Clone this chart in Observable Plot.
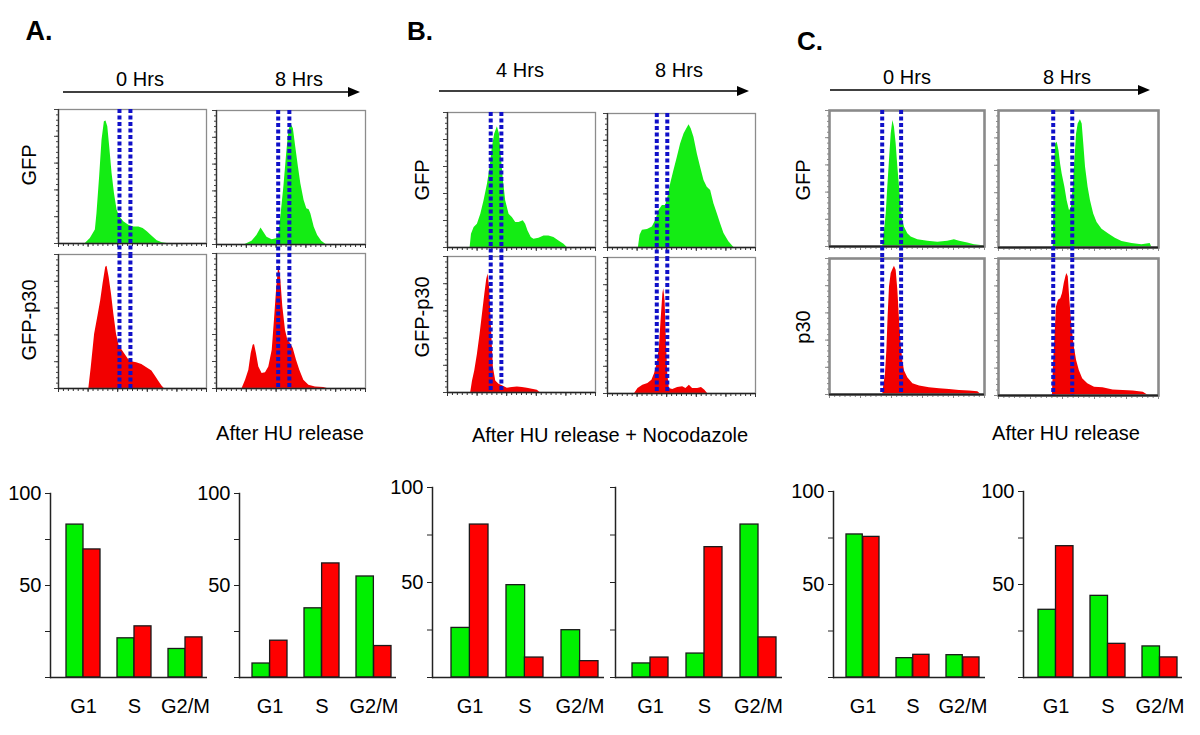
<!DOCTYPE html>
<html><head><meta charset="utf-8">
<script src="https://cdn.jsdelivr.net/npm/d3@7"></script>
<script src="https://cdn.jsdelivr.net/npm/@observablehq/plot@0.6"></script>
<style>
body{margin:0;background:#fff;font-family:"Liberation Sans",Arial,sans-serif;}
#fig{position:relative;width:1200px;height:735px;overflow:hidden;background:#fff;}
.t{position:absolute;white-space:nowrap;color:#000;line-height:1;}
</style></head><body><div id="fig"></div>
<script>
// ---------- DATA ----------
// Flow cytometry histograms: [DNA content (% of channel range), count (% of max scale)]
const A_GFP_0h = [[18.1,0],[21.5,3.7],[24.9,10],[26.0,22.4],[27.8,49.8],[29.4,77.1],[31.0,90.8],[32.1,91.5],[33.3,87.1],[34.6,72.1],[36.2,52.2],[37.8,37.3],[39.6,24.9],[41.4,19.9],[44.1,16.2],[47.5,13.7],[50.9,12.4],[54.3,12.4],[57.2,11.2],[60.0,8.7],[63.3,5.5],[66.7,2.0],[70.1,0.5],[73.5,0]];
const A_P30_0h = [[20.5,0],[22.1,15.5],[24.4,40.5],[26.7,54.3],[28.5,65.5],[30.1,78],[31.9,90.5],[32.8,91.3],[34.2,83],[35.8,70.5],[37.4,55.5],[39.2,40.5],[41.0,31.8],[42.6,29.3],[44.9,25.5],[47.2,21.8],[49.4,20],[52.8,19.3],[56.3,18],[59.7,15.5],[63.1,13],[65.4,9.3],[67.7,5.5],[69.9,1.8],[71.5,0]];
const A_GFP_8h = [[19.2,0],[23.8,2.5],[27.1,6.7],[29.9,12.4],[31.7,9.2],[33.9,5.5],[37.3,3.5],[40.3,4.2],[41.9,8],[43.4,22.9],[45.2,42.8],[47.1,67.7],[48.6,85.1],[50.0,90],[51.6,86.3],[53.2,72.6],[55.0,57.7],[56.6,45.3],[58.8,32.8],[60.6,26.6],[62.2,25.9],[63.3,22.9],[65.6,12.9],[67.9,6.7],[70.6,2.5],[73.5,0]];
const A_P30_8h = [[17.2,0],[19.5,6.2],[21.7,13.6],[23.3,25.9],[24.6,32.1],[25.5,32.6],[26.8,25.9],[28.4,16],[30.6,11.1],[32.9,11.6],[35.1,16],[37.4,28.4],[38.9,50.6],[40.3,72.8],[41.8,91.4],[43.0,82.7],[44.5,60.5],[46.3,43.2],[47.9,35.8],[49.7,33.3],[51.5,29.6],[53.7,21],[55.9,13.6],[58.6,6.2],[62.0,2.5],[66.4,1.2],[72.0,0.7],[74.3,0]];
const B_GFP_4h = [[15.3,0],[16.2,9.9],[18.0,14.8],[20.2,17.3],[22.5,24.7],[24.7,34.6],[27.0,46.9],[28.8,59.3],[30.3,74.1],[31.9,84],[33.7,89.4],[35.1,84],[36.4,66.7],[37.8,49.4],[39.3,34.6],[41.6,24.7],[43.8,22.2],[46.1,18.5],[48.3,18.5],[51.2,19.8],[52.8,17.3],[54.4,12.3],[56.6,7.4],[58.4,6.2],[61.8,6.9],[65.2,8.6],[68.5,8.6],[71.9,7.4],[75.3,4.9],[78.7,2.5],[80.9,0]];
const B_P30_4h = [[15.7,0],[16.9,8.5],[18.4,15.9],[20.2,28],[22.0,42.7],[23.6,57.3],[25.2,72],[26.5,83],[27.4,87.1],[28.5,76.8],[29.7,47.6],[31.0,18.3],[32.6,8.5],[34.8,6.1],[37.1,4.9],[40.4,3.2],[43.8,3.7],[47.2,4.1],[50.6,3.7],[53.9,3.2],[57.3,2.4],[60.7,1.7],[62.5,0]];
const B_GFP_8h = [[20.9,0],[22.0,9.2],[23.6,12.9],[27.0,13.4],[30.3,15.3],[32.6,20.3],[34.8,27.7],[37.1,31.4],[39.3,31.4],[40.9,37.6],[42.7,47.5],[44.9,57.4],[47.2,67.3],[49.4,77.2],[51.7,84.7],[53.5,88.4],[55.1,91.6],[56.6,88.4],[58.4,82.2],[60.7,69.8],[62.9,59.9],[65.2,50],[67.4,45],[69.7,42.6],[71.9,32.7],[74.2,25.2],[76.4,17.8],[78.7,10.4],[82.0,4.2],[85.4,0]];
const B_P30_8h = [[18.3,0],[20.6,3.7],[23.9,6.1],[27.3,7.3],[30.0,9.8],[31.8,14.6],[33.6,22],[35.1,34.1],[36.2,53.7],[37.4,73.2],[38.0,77.1],[38.9,68.3],[39.8,39],[40.7,14.6],[41.8,3.7],[44.1,2.9],[47.4,4.4],[50.8,4.9],[53.0,3.7],[55.3,6.1],[57.5,3.7],[60.9,3.7],[63.5,4.4],[65.8,2.4],[67.6,0]];
const C_GFP_0h = [[34.4,0],[35.1,9.3],[35.5,11.8],[36.6,24],[37.6,43.6],[38.7,63.2],[39.8,82.8],[40.9,92.6],[41.9,87.7],[43.0,75.5],[44.1,58.3],[45.2,43.6],[46.2,28.9],[47.3,19.1],[48.4,14.2],[50.5,9.3],[52.7,6.9],[57.0,4.9],[63.4,3.9],[69.9,3.2],[76.3,3.9],[80.6,4.9],[83.9,3.9],[89.2,2.5],[93.5,1.2],[97.8,0.7],[100,0]];
const C_P30_0h = [[34.4,0],[35.1,7.4],[36.1,14.8],[37.0,32.1],[37.8,56.8],[38.7,79],[39.8,88.9],[40.9,91.9],[41.9,94.3],[43.0,91.4],[44.1,76.5],[45.2,54.3],[46.2,37],[47.3,24.7],[48.4,17.3],[50.5,12.3],[53.8,7.9],[58.1,6.2],[64.5,4.9],[71.0,4.2],[77.4,3.7],[83.9,3],[90.3,2.5],[95.7,2],[97.8,0]];
const C_GFP_8h = [[34.2,0],[34.9,58.5],[35.7,75.6],[36.7,76.8],[37.8,70.7],[38.8,61],[39.8,53.7],[41.5,43.9],[42.9,34.1],[44.4,26.8],[45.6,29.3],[46.7,43.9],[47.7,63.4],[48.8,82.9],[49.8,90.2],[51.2,93.2],[52.3,90.2],[53.3,75.6],[54.4,58.5],[56.0,43.9],[57.5,34.1],[59.5,24.4],[61.6,18.3],[64.7,13.4],[68.9,9.8],[73.0,6.8],[77.2,4.4],[83.4,2.9],[89.6,2],[94.8,2.9],[95.9,0]];
const C_P30_8h = [[33.7,0],[34.3,20.7],[35.4,45.1],[36.2,64.6],[37.5,69.5],[38.9,70.7],[40.0,74.4],[41.1,81.7],[42.1,86.6],[42.7,89],[43.6,86.6],[44.6,69.5],[45.9,50],[47.4,35.4],[48.8,25.6],[50.5,18.3],[52.6,12.2],[55.8,8.5],[60.0,6.1],[65.3,5.6],[71.6,4.1],[77.9,3.7],[84.2,3.2],[90.5,2.4],[93.7,0]];

// S-phase gates (blue dotted lines)
const gatesA0 = [41.2, 48.6], gatesA8 = [41.4, 48.9];
const gatesB4 = [29.2, 36.4], gatesB8 = [33.3, 40.4];
const gatesC0 = [34.0, 46.2], gatesC8 = [34.2, 46.1];

// Bar charts: % cells per phase
const phases = ["G1", "S", "G2/M"];
const yTicks = [0, 25, 50, 75, 100];
const yTickLabels = [50, 100];
const barsA0_GFP = [83.1, 21.3, 15.5], barsA0_P30 = [69.6, 27.8, 21.8];
const barsA8_GFP = [7.6, 37.6, 54.9],  barsA8_P30 = [20.0, 62.0, 17.1];
const barsB4_GFP = [26.1, 48.6, 24.9], barsB4_P30 = [80.5, 10.5, 8.6];
const barsB8_GFP = [7.4, 12.6, 80.5],  barsB8_P30 = [10.5, 68.6, 21.1];
const barsC0_GFP = [76.9, 10.4, 12.0], barsC0_P30 = [75.6, 12.2, 10.8];
const barsC8_GFP = [36.4, 43.9, 16.7], barsC8_P30 = [70.6, 18.1, 10.8];

// ---------- STYLE ----------
const GREEN_H = "#14ec14", RED_H = "#f20000";
const GREEN_B = "#00f000", RED_B = "#ff0000";
const FONT = "'Liberation Sans', Arial, sans-serif";

const fig = document.getElementById("fig");
function place(node, left, top) {
  node.style.position = "absolute";
  node.style.left = left + "px";
  node.style.top = top + "px";
  fig.appendChild(node);
}
function text(str, cx, cy, size, opts = {}) {
  const d = document.createElement("div");
  d.className = "t";
  d.textContent = str;
  d.style.fontSize = size + "px";
  d.style.left = cx + "px";
  d.style.top = cy + "px";
  d.style.transform = "translate(-50%,-50%)" + (opts.rotate ? " rotate(-90deg)" : "");
  if (opts.bold) d.style.fontWeight = "bold";
  fig.appendChild(d);
}
function arrow(x1, x2, y) {
  const ns = "http://www.w3.org/2000/svg";
  const s = document.createElementNS(ns, "svg");
  const w = x2 - x1;
  s.setAttribute("width", w + 2); s.setAttribute("height", 14);
  s.innerHTML = `<line x1="0" y1="7" x2="${w - 8}" y2="7" stroke="#000" stroke-width="1.7"/>` +
    `<polygon points="${w - 12},2 ${w},7 ${w - 12},12" fill="#000"/>`;
  place(s, x1, y - 7);
}

const minorX = d3.range(0, 100.01, 100 / 30);
const majorX = d3.range(0, 100.01, 20);
const minorY = d3.range(0, 100.01, 4);
const majorY = d3.range(0, 100.01, 20);

function hist({data, fill, gate, x, y, w, h, kind, extBottom = 0}) {
  const C = kind === "C";
  const mL = 7, mR = 4, mT = 3, mB = 7;
  const svg = Plot.plot({
    width: w + mL + mR, height: h + mT + mB,
    marginLeft: mL, marginRight: mR, marginTop: mT, marginBottom: mB,
    x: {domain: [0, 100], axis: null},
    y: {domain: [0, 100], axis: null},
    style: {overflow: "visible", background: "transparent", maxWidth: "none", fontFamily: FONT},
    marks: [
      Plot.areaY(data, {x: d => d[0], y: d => d[1], fill, curve: "linear"}),
      Plot.frame({stroke: C ? "#8a8a8a" : "#8c8c8c", strokeWidth: C ? 2.6 : 1.3}),
      Plot.axisX({ticks: minorX, tickSize: 3, tickFormat: () => "", stroke: C ? "#888" : "#333"}),
      Plot.axisX({ticks: majorX, tickSize: 4, tickFormat: () => "", stroke: C ? "#888" : "#333"}),
      Plot.axisY({ticks: minorY, tickSize: 2, tickFormat: () => "", stroke: C ? "#888" : "#444"}),
      Plot.axisY({ticks: majorY, tickSize: 4, tickFormat: () => "", stroke: C ? "#888" : "#444"}),
      Plot.ruleY([0], {stroke: "#222", strokeWidth: C ? 2 : 1.3}),
      C ? null : Plot.ruleX([0], {stroke: "#333", strokeWidth: 1.3}),
      Plot.ruleX(gate, {stroke: "#1010c8", strokeWidth: 4, strokeDasharray: "4,2.5", insetBottom: -extBottom})
    ]
  });
  place(svg, x - mL, y - mT);
}

function bars({gfp, p30, axisX, yTop, bar0, barEnd, baseEnd, labels = true}) {
  const base = 677;
  const mL = 50, mT = 12, mB = 44, mR = 2;
  const left = axisX - mL;
  const rows = phases.map((p, i) => ({phase: p, gfp: gfp[i], p30: p30[i]}));
  const bw = (barEnd - bar0) / 4; // width of one green+red pair
  const svg = Plot.plot({
    width: baseEnd - left + mR, height: base - yTop + mT + mB,
    marginLeft: mL, marginRight: mR, marginTop: mT, marginBottom: mB,
    style: {overflow: "visible", background: "transparent", maxWidth: "none", fontFamily: FONT, fontSize: "20px", color: "#000"},
    x: {domain: phases, range: [bar0 - left, barEnd - left], paddingInner: 1 / 3, paddingOuter: 0, axis: null, label: null},
    y: {domain: [0, 100], axis: null, label: null},
    marks: [
      Plot.barY(rows, {x: "phase", y: "gfp", fill: GREEN_B, stroke: "#1a1a1a", strokeWidth: 1.3, insetLeft: 0, insetRight: bw / 2}),
      Plot.barY(rows, {x: "phase", y: "p30", fill: RED_B, stroke: "#1a1a1a", strokeWidth: 1.3, insetLeft: bw / 2, insetRight: 0}),
      Plot.axisY({ticks: yTicks, tickSize: 5, tickPadding: 4, fontSize: 20, stroke: "#222",
        tickFormat: d => labels && yTickLabels.includes(d) ? String(d) : ""}),
      Plot.frame({anchor: "left", stroke: "#222", strokeWidth: 1.5}),
      Plot.ruleY([0], {stroke: "#222", strokeWidth: 1.5}),
      Plot.axisX({tickSize: 0, tickPadding: 21, fontSize: 20})
    ]
  });
  place(svg, left, yTop - mT);
}

// ---------- PANEL A ----------
text("A.", 39, 31, 27, {bold: true});
text("0 Hrs", 140, 79, 20); text("8 Hrs", 299, 79, 20);
arrow(63, 360, 92);
text("GFP", 29, 165, 20, {rotate: true});
text("GFP-p30", 29, 320, 20, {rotate: true});
hist({data: A_GFP_0h, fill: GREEN_H, gate: gatesA0, x: 58, y: 109, w: 148, h: 134, kind: "A", extBottom: 11});
hist({data: A_P30_0h, fill: RED_H, gate: gatesA0, x: 58, y: 254, w: 148, h: 134, kind: "A"});
hist({data: A_GFP_8h, fill: GREEN_H, gate: gatesA8, x: 216, y: 110, w: 149, h: 134, kind: "A", extBottom: 9});
hist({data: A_P30_8h, fill: RED_H, gate: gatesA8, x: 216, y: 253, w: 149, h: 135, kind: "A"});
text("After HU release", 290, 433, 20);

// ---------- PANEL B ----------
text("B.", 420, 31, 26, {bold: true});
text("4 Hrs", 520, 70, 20); text("8 Hrs", 679, 70, 20);
arrow(439, 749, 91);
text("GFP", 422, 180, 20, {rotate: true});
text("GFP-p30", 422, 317, 20, {rotate: true});
hist({data: B_GFP_4h, fill: GREEN_H, gate: gatesB4, x: 447, y: 112, w: 148, h: 135, kind: "B", extBottom: 9});
hist({data: B_P30_4h, fill: RED_H, gate: gatesB4, x: 447, y: 256, w: 148, h: 136, kind: "B"});
hist({data: B_GFP_8h, fill: GREEN_H, gate: gatesB8, x: 607, y: 113, w: 148, h: 134, kind: "B", extBottom: 10});
hist({data: B_P30_8h, fill: RED_H, gate: gatesB8, x: 607, y: 257, w: 148, h: 136, kind: "B"});
text("After HU release + Nocodazole", 610, 435, 20);

// ---------- PANEL C ----------
text("C.", 810, 41, 26, {bold: true});
text("0 Hrs", 907, 77, 20); text("8 Hrs", 1067, 77, 20);
arrow(830, 1150, 90);
text("GFP", 803, 180, 20, {rotate: true});
text("p30", 803, 327, 20, {rotate: true});
hist({data: C_GFP_0h, fill: GREEN_H, gate: gatesC0, x: 829, y: 110, w: 155, h: 136, kind: "C", extBottom: 12});
hist({data: C_P30_0h, fill: RED_H, gate: gatesC0, x: 829, y: 258, w: 155, h: 136, kind: "C"});
hist({data: C_GFP_8h, fill: GREEN_H, gate: gatesC8, x: 998, y: 110, w: 160, h: 137, kind: "C", extBottom: 11});
hist({data: C_P30_8h, fill: RED_H, gate: gatesC8, x: 998, y: 258, w: 160, h: 137, kind: "C"});
text("After HU release", 1066, 433, 20);

// ---------- BAR CHARTS ----------
bars({gfp: barsA0_GFP, p30: barsA0_P30, axisX: 50, yTop: 493, bar0: 66, barEnd: 202, baseEnd: 207});
bars({gfp: barsA8_GFP, p30: barsA8_P30, axisX: 239, yTop: 493, bar0: 251, barEnd: 392, baseEnd: 396});
bars({gfp: barsB4_GFP, p30: barsB4_P30, axisX: 432, yTop: 487, bar0: 451, barEnd: 598, baseEnd: 604});
bars({gfp: barsB8_GFP, p30: barsB8_P30, axisX: 615, yTop: 487, bar0: 632, barEnd: 776, baseEnd: 782, labels: false});
bars({gfp: barsC0_GFP, p30: barsC0_P30, axisX: 833, yTop: 491, bar0: 846, barEnd: 980, baseEnd: 985});
bars({gfp: barsC8_GFP, p30: barsC8_P30, axisX: 1023, yTop: 491, bar0: 1037, barEnd: 1177, baseEnd: 1182});
</script></body></html>
